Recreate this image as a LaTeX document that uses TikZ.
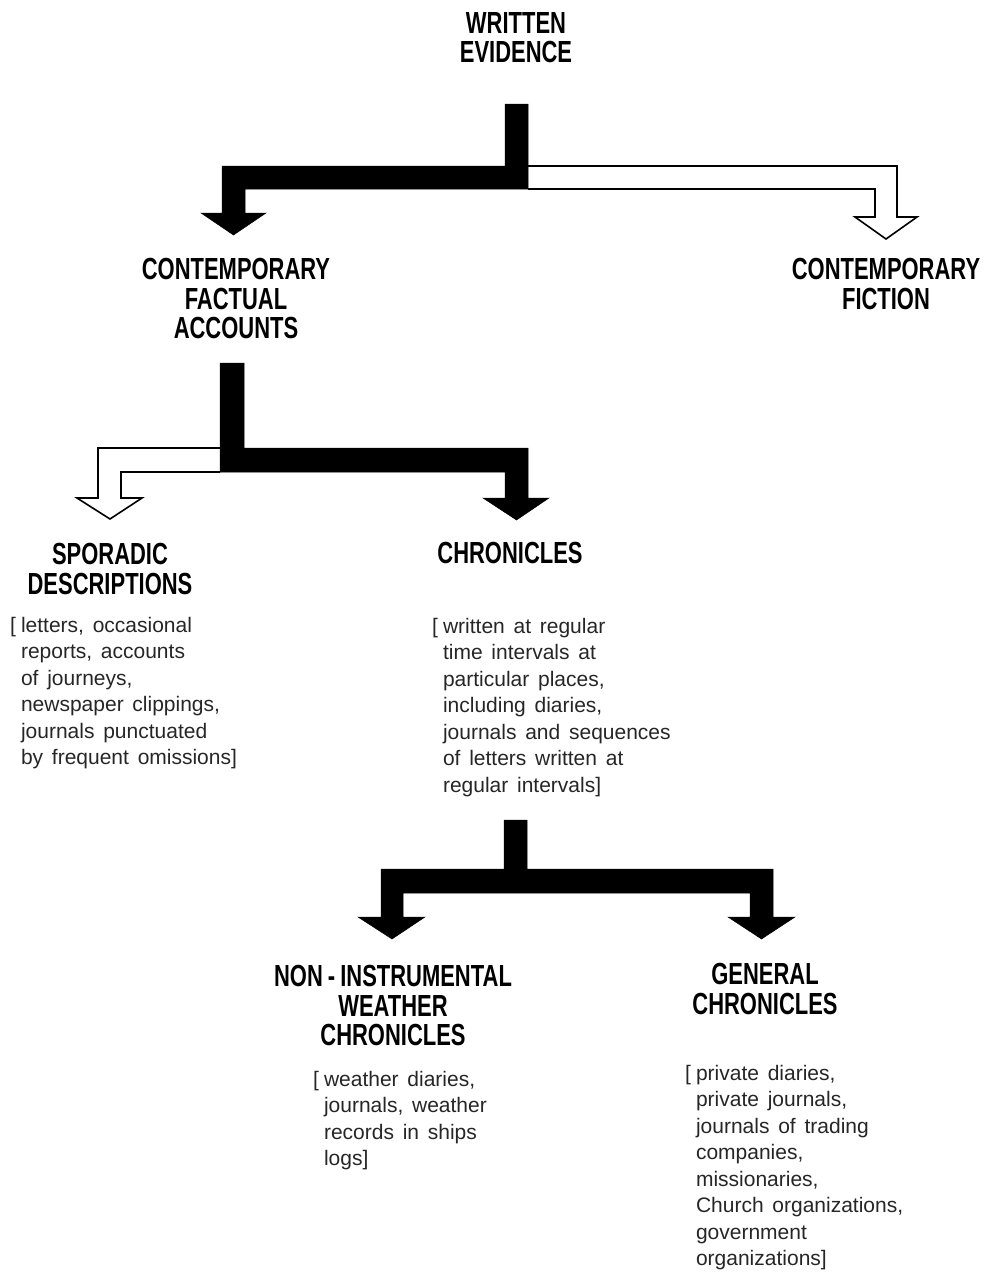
\documentclass[tikz,border=0pt]{standalone}
\usepackage{fontspec}
\setmainfont{Liberation Sans}[WordSpace=1.5]
\newfontfamily\headfont{Liberation Sans}[FakeStretch=0.72]
\newcommand\lb{[\kern5pt}
\newcommand\ind{\hphantom{[}\kern5pt}
\begin{document}
\begin{tikzpicture}[x=1pt,y=-1pt,
  head/.style={anchor=north,inner sep=0pt,align=center,
    font=\headfont\bfseries\fontsize{30.5}{29.5}\selectfont},
  body/.style={anchor=north west,inner sep=0pt,align=left,text=black!85,
    font=\fontsize{21}{26.5}\selectfont},
  blackarrow/.style={fill=black,draw=black,line width=0.5pt,line join=miter},
  whitearrow/.style={draw=black,line width=1.6pt,line join=miter,fill=white}]
\useasboundingbox (0,0) rectangle (984,1272);

% headings
\node[head] (we) at (516,12) {WRITTEN\\EVIDENCE};
\node[head] (cfa) at (236,258) {CONTEMPORARY\\FACTUAL\\ACCOUNTS};
\node[head] (cf) at (886,258) {CONTEMPORARY\\FICTION};
\node[head] (sd) at (110,543) {SPORADIC\\DESCRIPTIONS};
\node[head] (ch) at (510,542) {CHRONICLES};
\node[head] (niw) at (393,965) {NON\,-\,INSTRUMENTAL\\WEATHER\\CHRONICLES};
\node[head] (gc) at (765,963) {GENERAL\\CHRONICLES};

% descriptions
\node[body] (sdt) at (10,617) {\lb letters, occasional\\ \ind reports, accounts\\ \ind of journeys,\\ \ind newspaper clippings,\\ \ind journals punctuated\\ \ind by frequent omissions]};
\node[body] (cht) at (432,618) {\lb written at regular\\ \ind time intervals at\\ \ind particular places,\\ \ind including diaries,\\ \ind journals and sequences\\ \ind of letters written at\\ \ind regular intervals]};
\node[body] (niwt) at (313,1071) {\lb weather diaries,\\ \ind journals, weather\\ \ind records in ships\\ \ind logs]};
\node[body] (gct) at (685,1065) {\lb private diaries,\\ \ind private journals,\\ \ind journals of trading\\ \ind companies,\\ \ind missionaries,\\ \ind Church organizations,\\ \ind government\\ \ind organizations]};

% arrow 1: WRITTEN EVIDENCE -> both
\draw[whitearrow] (528,166) -- (897,166) -- (897,217) -- (917,217) -- (886,239)
  -- (855,217) -- (875,217) -- (875,189) -- (528,189);
\draw[blackarrow] (505,104) -- (528,104) -- (528,189) -- (245,189) -- (245,213)
  -- (266,213) -- (233.5,235) -- (201,213) -- (222,213) -- (222,166) -- (505,166) -- cycle;

% arrow 2: CONTEMPORARY FACTUAL ACCOUNTS -> both
\draw[whitearrow] (220,448) -- (98,448) -- (98,498) -- (77,498) -- (110,519)
  -- (142,498) -- (121,498) -- (121,472) -- (220,472);
\draw[blackarrow] (220,363) -- (244,363) -- (244,448) -- (528,448) -- (528,498)
  -- (549,498) -- (516.5,520) -- (483,498) -- (505,498) -- (505,472) -- (220,472) -- cycle;

% arrow 3: CHRONICLES -> both
\draw[blackarrow] (504,820) -- (527,820) -- (527,869) -- (773,869) -- (773,917)
  -- (795,917) -- (761.5,939) -- (728,917) -- (750,917) -- (750,893) -- (403,893)
  -- (403,917) -- (425,917) -- (392,939) -- (358,917) -- (381,917) -- (381,869)
  -- (504,869) -- cycle;
\end{tikzpicture}
\end{document}
